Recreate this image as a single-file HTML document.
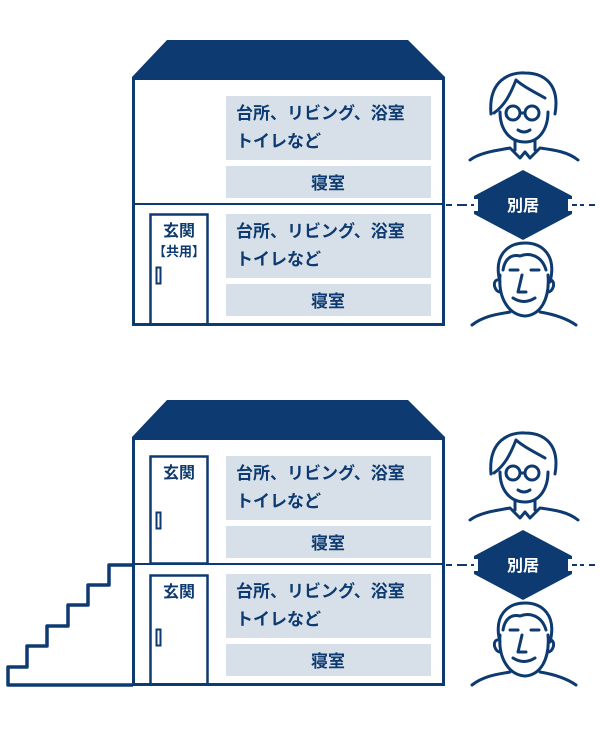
<!DOCTYPE html>
<html><head><meta charset="utf-8"><style>
html,body{margin:0;padding:0;background:#fff;}
svg{display:block;}
text{font-family:"Liberation Sans","Noto Sans CJK JP",sans-serif;fill:#0d3a70;font-weight:bold;}
</style></head><body>
<svg width="600" height="732" viewBox="0 0 600 732" xmlns="http://www.w3.org/2000/svg">
<defs>
<g id="rooms">
  <rect x="226" y="96" width="205" height="64" fill="#d7e0e9"/>
  <rect x="226" y="166" width="205" height="32" fill="#d7e0e9"/>
  <rect x="226" y="214" width="205" height="64" fill="#d7e0e9"/>
  <rect x="226" y="284" width="205" height="32" fill="#d7e0e9"/>
  <text x="236" y="119" font-size="17">台所、リビング、浴室</text>
  <text x="236" y="147" font-size="17">トイレなど</text>
  <text x="328" y="189" font-size="17" text-anchor="middle">寝室</text>
  <text x="236" y="237" font-size="17">台所、リビング、浴室</text>
  <text x="236" y="265" font-size="17">トイレなど</text>
  <text x="328" y="307" font-size="17" text-anchor="middle">寝室</text>
  <polygon points="167,40 408,40 445,77 132,77" fill="#0d3a70"/>
  <rect x="133.5" y="78.5" width="310" height="246" fill="none" stroke="#0d3a70" stroke-width="3"/>
  <line x1="133" y1="204" x2="444" y2="204" stroke="#0d3a70" stroke-width="2"/>
</g>
<g id="people">
  <g fill="none" stroke="#0d3a70" stroke-width="3" stroke-linecap="round" stroke-linejoin="round">
    <path d="M491,114 C488,80 510,72 525,73 C545,73 560,85 555,114"/>
    <path d="M516,80 C510,95 505,105 494,113 M516,80 C525,88 535,92 545,98"/>
    <path d="M500,112 C500,130 510,142 525,142 C540,142 548,128 548,112"/>
    <circle cx="513" cy="113" r="7"/><circle cx="532" cy="113" r="7"/>
    <path d="M520,113 L525,113"/>
    <path d="M518,130 Q524,134 530,130"/>
    <path d="M515,140 L515,150 M535,140 L535,150"/>
    <path d="M470,160 C480,152 500,150 510,148 L520,158 L525,152 L530,158 L540,148 C555,150 568,152 578,160"/>
    <path d="M500,282 C493,255 508,243 525,243 C542,243 557,255 550,282"/>
    <path d="M503,270 C505,258 512,254 520,256 C530,252 542,256 546,270"/>
    <path d="M500,275 C498,300 510,315 525,316 C540,315 550,300 548,275"/>
    <path d="M497,280 C492,282 495,292 500,292 M551,280 C556,282 553,292 548,292"/>
    <path d="M510,270 L518,270 M531,270 L539,270"/>
    <path d="M522,275 L518,292 L526,292"/>
    <path d="M513,298 Q524,305 535,298"/>
    <path d="M472,325 C485,315 500,314 510,312 M540,312 C552,314 566,318 576,325"/>
  </g>
  <line x1="446" y1="205" x2="600" y2="205" stroke="#0d3a70" stroke-width="2" stroke-dasharray="6,5"/>
  <polygon points="523,170 572,196 572,214 523,240 474,214 474,196" fill="#0d3a70"/>
  <rect x="466" y="199" width="12" height="12" fill="#fff"/>
  <rect x="568" y="199" width="12" height="12" fill="#fff"/>
  <line x1="462" y1="205" x2="474" y2="205" stroke="#0d3a70" stroke-width="2" stroke-dasharray="5,4"/>
  <line x1="572" y1="205" x2="582" y2="205" stroke="#0d3a70" stroke-width="2" stroke-dasharray="5,4"/>
  <text x="523" y="211" font-size="16" text-anchor="middle" style="fill:#fff">別居</text>
</g>
</defs>

<use href="#rooms"/>
<use href="#people"/>
<rect x="150.5" y="214.5" width="57" height="110" fill="none" stroke="#0d3a70" stroke-width="2.5"/>
<rect x="156.5" y="267.5" width="4" height="16" fill="none" stroke="#0d3a70" stroke-width="2"/>
<text x="179" y="236" font-size="16" text-anchor="middle">玄関</text>
<text x="179" y="256" font-size="13" text-anchor="middle">【共用】</text>

<g transform="translate(0,360)">
  <use href="#rooms"/>
  <use href="#people"/>
</g>
<rect x="150.5" y="456.5" width="57" height="107" fill="none" stroke="#0d3a70" stroke-width="2.5"/>
<rect x="156.5" y="512.5" width="4" height="16" fill="none" stroke="#0d3a70" stroke-width="2"/>
<text x="179" y="478" font-size="16" text-anchor="middle">玄関</text>
<rect x="150.5" y="575.5" width="57" height="109" fill="none" stroke="#0d3a70" stroke-width="2.5"/>
<rect x="156.5" y="629.5" width="4" height="16" fill="none" stroke="#0d3a70" stroke-width="2"/>
<text x="179" y="597" font-size="16" text-anchor="middle">玄関</text>
<polyline points="133,565 109,565 109,585 88,585 88,605 68,605 68,626 47,626 47,646 27,646 27,667 8,667 8,685 133,685" fill="none" stroke="#0d3a70" stroke-width="3.5" stroke-linejoin="round"/>
</svg>
</body></html>
